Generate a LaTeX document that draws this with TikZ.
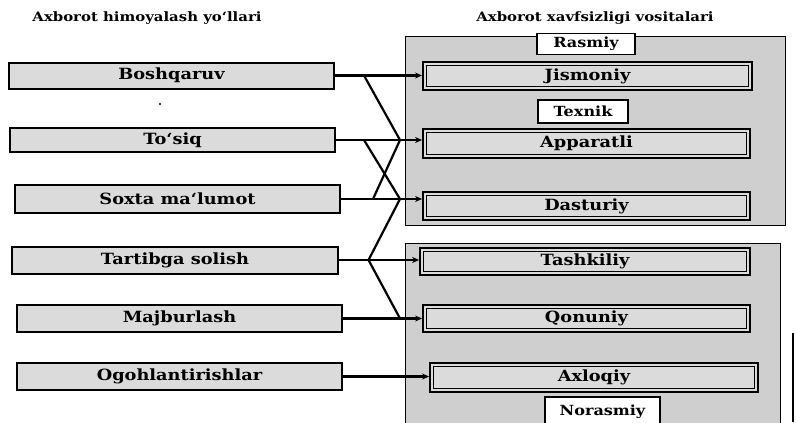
\documentclass[tikz,border=0pt]{standalone}
\usepackage{fontspec}
\setmainfont{DejaVu Serif}[FakeStretch=1.15]
\usetikzlibrary{arrows.meta,calc}
\tikzset{
  lbox/.style={draw=black, line width=2bp, fill=gray!28, minimum width=325bp, minimum height=26bp, inner sep=0pt, font=\bfseries\fontsize{15.5}{15.5}\selectfont},
  rbox/.style={draw=black, line width=1.8bp, fill=gray!28, minimum height=28bp, inner sep=0pt, font=\bfseries\fontsize{15.5}{15.5}\selectfont,
    path picture={\draw[line width=0.8bp] ([shift={(3.5bp,-3.5bp)}]path picture bounding box.north west) rectangle ([shift={(-3.5bp,3.5bp)}]path picture bounding box.south east);}},
  tagbox/.style={draw=black, line width=1.8bp, fill=white, inner sep=0pt, font=\bfseries\fontsize{14}{14}\selectfont},
  panel/.style={draw=black, line width=0.6bp, fill=gray!38},
  title/.style={font=\bfseries\fontsize{13}{13}\selectfont},
  conn/.style={line width=2.2bp, draw=black},
  arr/.style={conn, -{Stealth[length=7bp,width=6bp]}}
}
\begin{document}
\begin{tikzpicture}[x=1bp,y=-1bp]
\useasboundingbox (0,0) rectangle (796,422);
% titles
\node[title] (t1) at (147,18) {Axborot himoyalash yo`llari};
\node[title] (t2) at (595,18) {Axborot xavfsizligi vositalari};
% panels
\path[panel] (405,36) rectangle (785,225);
\path[panel] (405,243) rectangle (780,430);
% tags
\node[tagbox, minimum width=98bp, minimum height=21bp] (rasm) at (586,44) {Rasmiy};
\node[tagbox, minimum width=90bp, minimum height=23bp] (tex) at (583,111.5) {Texnik};
\node[tagbox, minimum width=115bp, minimum height=30bp] (nor) at (602.5,412) {Norasmiy};
% right boxes
\node[rbox, minimum width=329bp] (jis) at (587.5,76) {Jismoniy};
\node[rbox, minimum width=327bp, minimum height=29bp] (app) at (586.5,143.5) {Apparatli};
\node[rbox, minimum width=327bp] (dast) at (586.5,206) {Dasturiy};
\node[rbox, minimum width=330bp, minimum height=27bp] (tash) at (585,261.5) {Tashkiliy};
\node[rbox, minimum width=327bp, minimum height=27bp] (qon) at (586.5,318.5) {Qonuniy};
\node[rbox, minimum width=328bp, minimum height=29bp] (axl) at (594,377.5) {Axloqiy};
% left boxes
\node[lbox] (bosh) at (171.5,75.5) {Boshqaruv};
\node[lbox, minimum height=24bp] (tos) at (172.5,140) {To`siq};
\node[lbox, minimum height=28bp] (sox) at (177.5,199) {Soxta ma`lumot};
\node[lbox, minimum height=27bp] (tar) at (175,260) {Tartibga solish};
\node[lbox, minimum height=27bp] (maj) at (179.5,318.5) {Majburlash};
\node[lbox, minimum height=27bp] (ogo) at (179.5,376.5) {Ogohlantirishlar};
% connectors
\coordinate (xr) at (400,0);
\draw[arr] (bosh.east) -- (bosh.east -| jis.west);
\draw[arr] (tos.east) -- (tos.east -| app.west);
\draw[arr] (sox.east) -- (sox.east -| dast.west);
\draw[arr] (tar.east) -- (tar.east -| tash.west);
\draw[arr] (maj.east) -- (maj.east -| qon.west);
\draw[arr] (ogo.east) -- (ogo.east -| axl.west);
\coordinate (jb) at ([xshift=29bp]bosh.east);
\coordinate (jt) at ([xshift=28bp]tos.east);
\coordinate (js) at ([xshift=32bp]sox.east);
\coordinate (jr) at ([xshift=30bp]tar.east);
\draw[conn] (jb) -- (tos.east -| xr);
\draw[conn] (jt) -- (sox.east -| xr);
\draw[conn] (js) -- (tos.east -| xr);
\draw[conn] (jr) -- (sox.east -| xr);
\draw[conn] (jr) -- (maj.east -| xr);
% scan artifacts
\fill (160,104) circle (1.2bp);
\draw[line width=1.5bp] (793,333) -- (793,422);
\end{tikzpicture}
\end{document}
